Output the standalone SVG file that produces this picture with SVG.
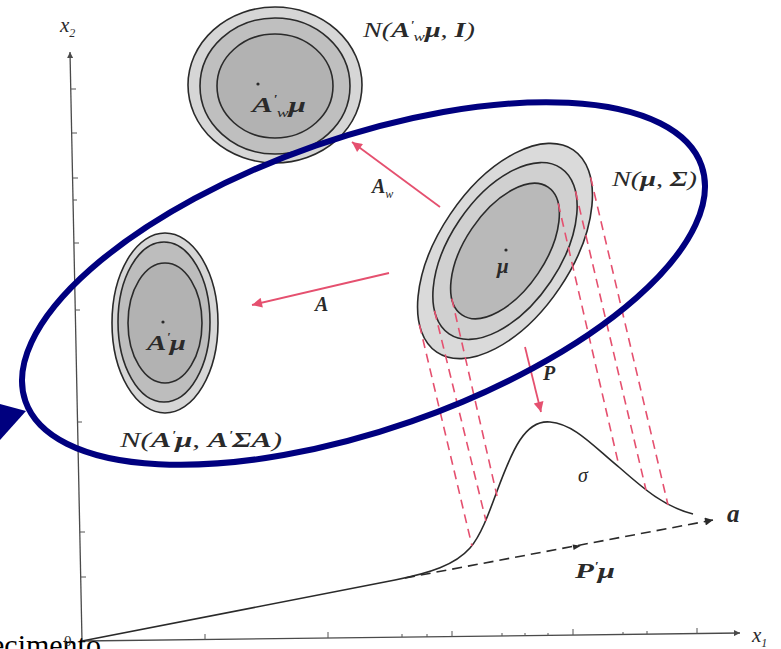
<svg xmlns="http://www.w3.org/2000/svg" width="781" height="649" viewBox="0 0 781 649">
<style>
.ax{stroke:#4a4a4a;stroke-width:1.3;fill:none}
.tk{stroke:#555;stroke-width:1}
.c{stroke:#2a2a2a;stroke-width:1.6}
.red{stroke:#e5506f;stroke-width:1.8;fill:none}
.dash{stroke:#e5506f;stroke-width:1.6;stroke-dasharray:9 6;fill:none}
.t{font-family:"Liberation Serif","Times New Roman",serif;font-style:italic;fill:#2a2a2a}
.r{font-family:"Liberation Serif","Times New Roman",serif}
.b{font-weight:bold}
.sm{font-size:12px}
</style>
<defs>
<marker id="ra" viewBox="0 0 10 10" refX="10" refY="5" markerWidth="15" markerHeight="10" markerUnits="userSpaceOnUse" orient="auto">
<path d="M0,0 L10,5 L0,10 z" fill="#e5506f"/>
</marker>
<marker id="ka" viewBox="0 0 10 10" refX="10" refY="5" markerWidth="14" markerHeight="8" markerUnits="userSpaceOnUse" orient="auto">
<path d="M0,0 L10,5 L0,10 z" fill="#2a2a2a"/>
</marker>
<marker id="axa" viewBox="0 0 10 10" refX="10" refY="5" markerWidth="10" markerHeight="6" markerUnits="userSpaceOnUse" orient="auto">
<path d="M0,0 L10,5 L0,10 z" fill="#4a4a4a"/>
</marker>
</defs>
<rect width="781" height="649" fill="#ffffff"/>

<g id="axes">
<line class="ax" x1="82" y1="641" x2="70" y2="52" marker-end="url(#axa)"/>
<line class="ax" x1="82" y1="641" x2="740" y2="633" marker-end="url(#axa)"/>
<g class="tk">
<line x1="71" y1="89" x2="76" y2="89"/>
<line x1="72" y1="133" x2="77" y2="133"/>
<line x1="73" y1="178" x2="78" y2="178"/>
<line x1="73" y1="200" x2="77" y2="200"/>
<line x1="74" y1="243" x2="79" y2="243"/>
<line x1="75" y1="310" x2="80" y2="310"/>
<line x1="77" y1="422" x2="82" y2="422"/>
<line x1="80" y1="532" x2="85" y2="532"/>
<line x1="81" y1="577" x2="86" y2="577"/>
<line x1="205" y1="640" x2="205" y2="634"/>
<line x1="328" y1="638" x2="328" y2="632"/>
<line x1="452" y1="637" x2="452" y2="631"/>
<line x1="573" y1="635" x2="573" y2="629"/>
<line x1="697" y1="634" x2="697" y2="628"/>
<line x1="402" y1="637" x2="402" y2="634"/>
<line x1="427" y1="637" x2="427" y2="634"/>
<line x1="502" y1="636" x2="502" y2="633"/>
<line x1="525" y1="636" x2="525" y2="633"/>
<line x1="548" y1="636" x2="548" y2="633"/>
<line x1="623" y1="635" x2="623" y2="632"/>
<line x1="647" y1="634" x2="647" y2="631"/>
</g>
<text class="t" x="60" y="32" font-size="21">x<tspan class="sm" dy="5">2</tspan></text>
<text class="t" x="752" y="642" font-size="21">x<tspan class="sm" dy="5">1</tspan></text>
<text class="r" x="-9" y="655" font-size="30" fill="#000">ecimento</text>
<text class="r" x="64" y="646" font-size="15" fill="#2a2a2a">0</text>
</g>

<g id="node-top">
<ellipse class="c" cx="275" cy="85" rx="87" ry="78" fill="#d6d6d6"/>
<ellipse class="c" cx="275" cy="86" rx="75" ry="68" fill="#bfbfbf"/>
<ellipse class="c" cx="275" cy="86" rx="58" ry="52" fill="#b2b2b2"/>
<circle cx="258" cy="84" r="1.6" fill="#2a2a2a"/>
<text class="t" x="252" y="112" font-size="21" textLength="54" lengthAdjust="spacingAndGlyphs"><tspan class="b">A</tspan><tspan class="sm" dy="-9">'</tspan><tspan class="sm" dy="14">w</tspan><tspan class="b" dy="-5">μ</tspan></text>
<text class="t" x="363" y="37" font-size="20" textLength="112" lengthAdjust="spacingAndGlyphs">N(<tspan class="b">A</tspan><tspan class="sm" dy="-8">'</tspan><tspan class="sm" dy="12">w</tspan><tspan class="b" dy="-4">μ</tspan>, <tspan class="b">I</tspan>)</text>
</g>

<g id="node-left">
<ellipse class="c" cx="165" cy="323" rx="53" ry="90" fill="#d6d6d6"/>
<ellipse class="c" cx="164" cy="322" rx="46" ry="80" fill="#bdbdbd"/>
<ellipse class="c" cx="165" cy="323" rx="37" ry="60" fill="#b2b2b2"/>
<circle cx="163" cy="322" r="1.6" fill="#2a2a2a"/>
<text class="t" x="147" y="350" font-size="21" textLength="39" lengthAdjust="spacingAndGlyphs"><tspan class="b">A</tspan><tspan class="sm" dy="-9">'</tspan><tspan class="b" dy="9">μ</tspan></text>
<text class="t" x="120" y="447" font-size="20" textLength="162" lengthAdjust="spacingAndGlyphs">N(<tspan class="b">A</tspan><tspan class="sm" dy="-8">'</tspan><tspan class="b" dy="8">μ</tspan>, <tspan class="b">A</tspan><tspan class="sm" dy="-8">'</tspan><tspan class="b" dy="8">ΣA</tspan>)</text>
</g>

<g id="node-main">
<g transform="rotate(-56 505 251)">
<ellipse class="c" cx="505" cy="251" rx="122" ry="66" fill="#dadada"/>
<ellipse class="c" cx="505" cy="251" rx="100" ry="55" fill="#d0d0d0"/>
<ellipse class="c" cx="505" cy="251" rx="77" ry="40" fill="#b9b9b9"/>
</g>
<circle cx="506" cy="250" r="1.6" fill="#2a2a2a"/>
<text class="t b" x="497" y="273" font-size="21">μ</text>
<text class="t" x="612" y="186" font-size="20" textLength="85" lengthAdjust="spacingAndGlyphs">N(<tspan class="b">μ</tspan>, <tspan class="b">Σ</tspan>)</text>
</g>

<g id="node-curve">
<path class="c" fill="none" stroke-width="1.8" d="M82,641 L395,580 C430,573 455,565 470,548 C490,525 500,470 520,440 C530,425 540,421 550,422 C575,424 595,448 620,468 C645,490 665,507 693,514"/>
<text class="t" x="578" y="482" font-size="20">σ</text>
</g>

<g id="connectors">
<g class="dash">
<line x1="419.4" y1="324.6" x2="472" y2="546"/>
<line x1="434.5" y1="310.7" x2="486" y2="521"/>
<line x1="451.8" y1="298.6" x2="497" y2="496"/>
<line x1="590.6" y1="177.4" x2="668" y2="505"/>
<line x1="575.5" y1="191.3" x2="646" y2="490"/>
<line x1="558.2" y1="203.4" x2="619" y2="466"/>
</g>
<line class="red" x1="440" y1="207" x2="352" y2="142" marker-end="url(#ra)"/>
<line class="red" x1="389" y1="273" x2="252" y2="305" marker-end="url(#ra)"/>
<line class="red" x1="525" y1="347" x2="541" y2="412" marker-end="url(#ra)"/>
<line stroke="#2a2a2a" stroke-width="1.6" stroke-dasharray="10 6" x1="405" y1="578" x2="713" y2="520" marker-end="url(#ka)"/>
<polygon points="581,545.8 572.6,544.6 573.6,550" fill="#2a2a2a"/>
<text class="t b" x="372" y="193" font-size="20">A<tspan class="sm" font-weight="normal" dy="5">w</tspan></text>
<text class="t b" x="315" y="311" font-size="20">A</text>
<text class="t b" x="543" y="380" font-size="20">P</text>
<text class="t" x="575" y="578" font-size="20" textLength="40" lengthAdjust="spacingAndGlyphs"><tspan class="b">P</tspan><tspan class="sm" dy="-8">'</tspan><tspan class="b" dy="8">μ</tspan></text>
<text class="t b" x="727" y="522" font-size="25">a</text>
</g>

<g id="highlight">
<ellipse cx="363.5" cy="283.5" rx="358" ry="146" transform="rotate(-19.2 363.5 283.5)" fill="none" stroke="#00007f" stroke-width="6"/>
<polygon points="0,404 26,411 0,440" fill="#00007f"/>
</g>
</svg>
